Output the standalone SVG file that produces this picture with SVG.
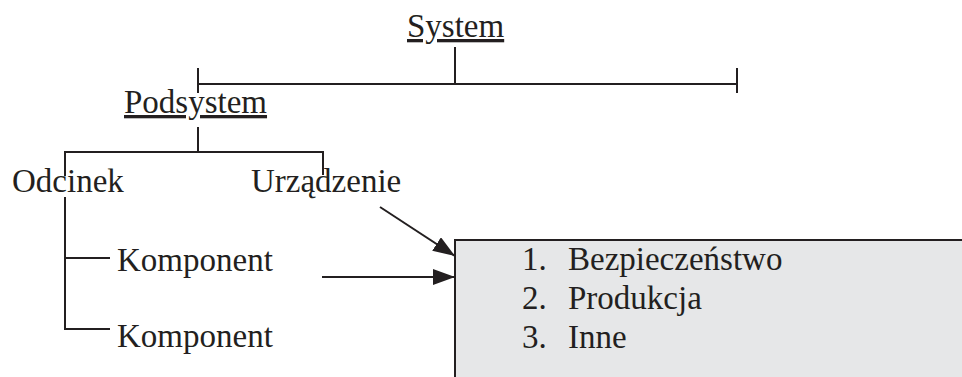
<svg xmlns="http://www.w3.org/2000/svg" width="962" height="377" viewBox="0 0 962 377">
  <style>
    text { font-family: "Liberation Serif", "Times New Roman", serif; font-size: 33px; fill: #231f20; }
    .ln { stroke: #231f20; stroke-width: 2; fill: none; }
    .ul { text-decoration: underline; }
  </style>
  <defs>
    <marker id="arrow" viewBox="0 0 10 10" refX="10" refY="5" markerWidth="10" markerHeight="10" markerUnits="userSpaceOnUse" orient="auto">
      <path d="M0,0 L10,5 L0,10 z" fill="#231f20"/>
    </marker>
    <marker id="arrowL" viewBox="0 0 22 16" refX="22" refY="8" markerWidth="22" markerHeight="16" markerUnits="userSpaceOnUse" orient="auto">
      <path d="M0,0 L22,8 L0,16 z" fill="#231f20"/>
    </marker>
  </defs>

  <!-- grey list box, running off the right and bottom edges -->
  <g id="box">
    <rect x="455" y="240" width="520" height="150" fill="#e6e7e8" stroke="#231f20" stroke-width="2"/>
    <text x="522" y="270">1.</text>
    <text x="568" y="270">Bezpieczeństwo</text>
    <text x="522" y="309">2.</text>
    <text x="568" y="309">Produkcja</text>
    <text x="522" y="348">3.</text>
    <text x="568" y="348">Inne</text>
  </g>

  <g id="connectors">
    <!-- System bar -->
    <line class="ln" x1="455" y1="47" x2="455" y2="84"/>
    <line class="ln" x1="198" y1="84" x2="737" y2="84"/>
    <line class="ln" x1="198" y1="68" x2="198" y2="93"/>
    <line class="ln" x1="737" y1="68" x2="737" y2="93"/>
    <!-- Podsystem bar -->
    <line class="ln" x1="198" y1="127" x2="198" y2="152"/>
    <line class="ln" x1="65" y1="152" x2="323" y2="152"/>
    <line class="ln" x1="65" y1="151" x2="65" y2="176"/>
    <line class="ln" x1="323" y1="151" x2="323" y2="175"/>
    <!-- Odcinek branches -->
    <line class="ln" x1="65" y1="197" x2="65" y2="330"/>
    <line class="ln" x1="64" y1="258" x2="110" y2="258"/>
    <line class="ln" x1="64" y1="329" x2="110" y2="329"/>
    <!-- arrows into the box -->
    <line class="ln" x1="380" y1="207" x2="455" y2="256" marker-end="url(#arrowL)"/>
    <line class="ln" x1="322" y1="277" x2="455" y2="277" marker-end="url(#arrowL)"/>
  </g>

  <g id="system"><text class="ul" x="407" y="37">System</text></g>
  <g id="podsystem"><text class="ul" x="124" y="113">Podsystem</text></g>
  <g id="odcinek"><text x="12" y="192">Odcinek</text></g>
  <g id="urzadzenie"><text x="251" y="192">Urządzenie</text></g>
  <g id="komponent1"><text x="117" y="271">Komponent</text></g>
  <g id="komponent2"><text x="117" y="347">Komponent</text></g>
</svg>
